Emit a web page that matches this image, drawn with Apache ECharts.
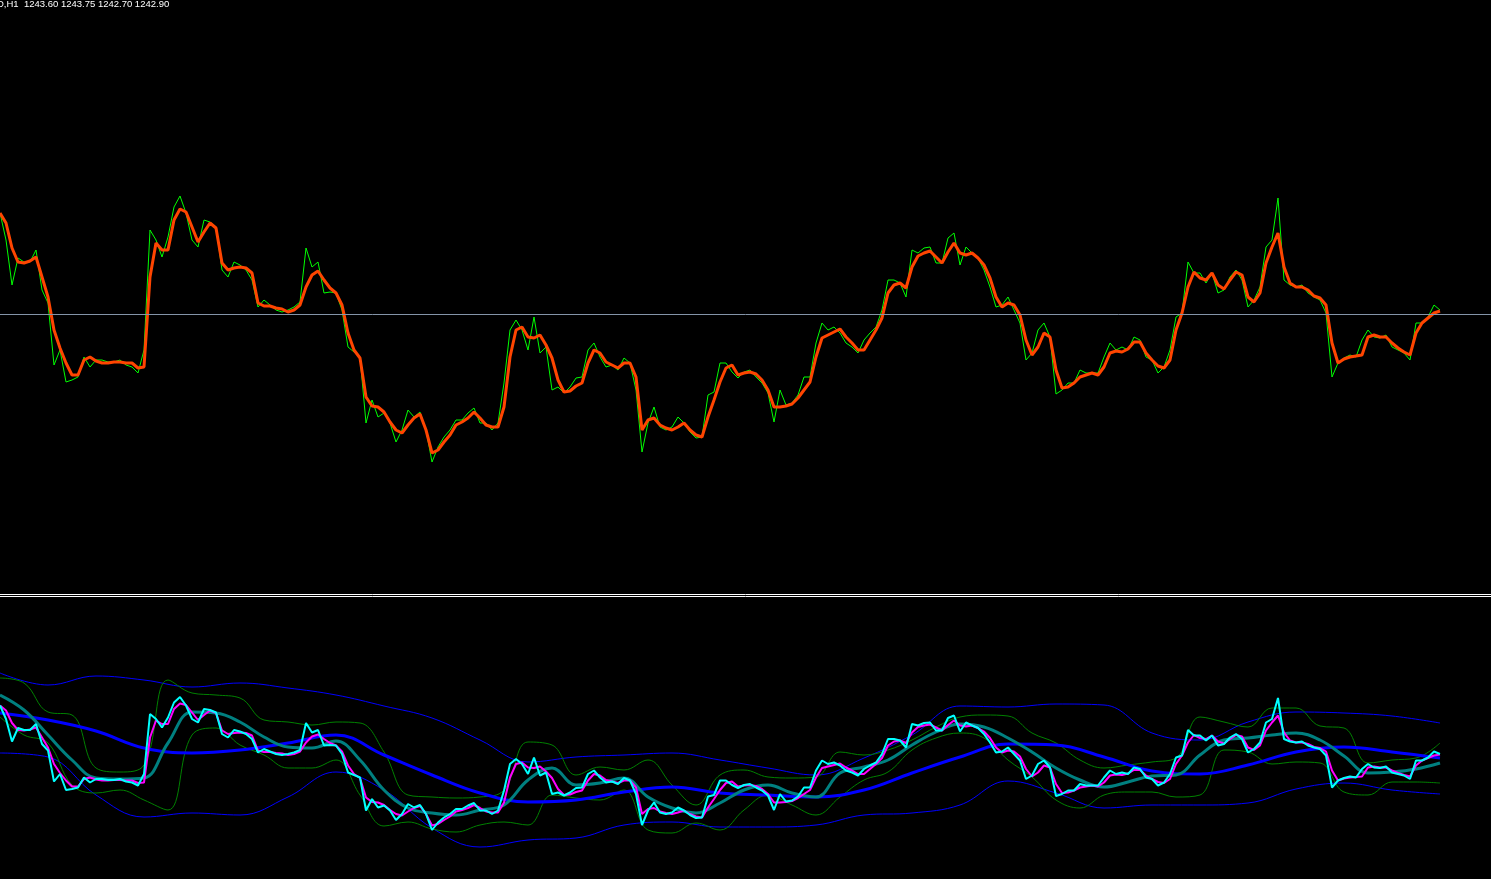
<!DOCTYPE html>
<html><head><meta charset="utf-8">
<script src="https://cdn.jsdelivr.net/npm/echarts@6/dist/echarts.min.js"></script>
<style>html,body{margin:0;padding:0;background:#000;overflow:hidden}#c{width:1491px;height:879px;}</style>
</head><body><div id="c"></div>
<script>
// ---- header text ----
const headerText = 'D,H1  1243.60 1243.75 1242.70 1242.90';
const bidPrice = 1242.9;

// ---- close prices (one sample every 2 bars) ----
const closePrices = [
1253.0,1250.3,1245.8,1248.5,1248.1,1248.1,1249.3,1245.3,1244.0,1237.8,
1239.3,1236.1,1236.3,1236.6,1238.6,1237.6,1238.3,1238.3,1238.1,1238.1,
1238.3,1237.8,1237.6,1237.0,1239.3,1251.3,1250.3,1248.6,1250.6,1253.6,
1254.7,1253.0,1250.3,1249.6,1252.3,1252.1,1251.6,1247.3,1246.6,1248.1,
1247.8,1247.3,1246.3,1243.6,1244.3,1243.8,1243.3,1243.1,1243.3,1243.6,
1244.1,1249.5,1247.6,1248.1,1245.0,1245.1,1245.0,1243.3,1239.6,1239.1,
1238.6,1232.0,1234.3,1232.6,1233.0,1232.0,1230.1,1231.3,1233.3,1232.6,
1233.1,1231.3,1228.1,1229.6,1230.6,1231.3,1232.3,1232.3,1233.0,1233.5,
1232.0,1232.0,1231.3,1232.0,1236.0,1241.3,1242.3,1241.3,1239.3,1242.6,
1239.0,1239.6,1235.3,1235.6,1235.0,1235.6,1236.5,1236.6,1239.3,1240.0,
1238.6,1237.6,1237.8,1237.3,1238.5,1238.0,1235.3,1229.1,1232.0,1233.6,
1231.6,1231.3,1231.6,1232.6,1232.0,1231.1,1230.5,1230.6,1234.8,1235.1,
1238.0,1238.0,1237.1,1236.5,1237.1,1237.3,1236.6,1236.0,1235.0,1232.1,
1235.3,1233.8,1234.0,1234.8,1236.6,1236.6,1240.0,1242.0,1241.3,1241.6,
1241.0,1240.0,1239.6,1239.0,1240.3,1241.0,1241.6,1243.3,1246.3,1246.3,
1246.0,1244.6,1249.3,1249.0,1249.5,1249.6,1248.0,1248.0,1250.5,1251.0,
1247.8,1249.6,1249.0,1248.5,1247.3,1245.6,1243.6,1243.8,1244.6,1243.3,
1242.0,1238.3,1239.0,1241.3,1242.0,1240.6,1234.9,1235.3,1236.0,1236.0,
1237.3,1237.0,1237.0,1237.0,1238.6,1240.0,1239.3,1239.6,1239.3,1240.6,
1240.3,1238.6,1238.3,1237.0,1237.6,1239.3,1242.6,1243.0,1248.1,1247.0,
1247.0,1246.0,1247.0,1245.0,1245.3,1246.6,1247.3,1246.3,1243.6,1244.3,
1245.6,1249.6,1250.3,1254.5,1246.3,1245.8,1245.6,1245.8,1245.0,1244.6,
1244.3,1243.0,1236.6,1238.0,1238.5,1238.8,1238.6,1240.3,1241.3,1240.6,
1240.5,1240.8,1239.6,1239.3,1239.0,1238.3,1242.0,1242.0,1242.6,1243.8,
1243.3
];

// ---- fast moving average (orange / magenta), same sampling ----
const fastMA = [
1253.0,1252.0,1249.5,1248.1,1248.0,1248.2,1248.6,1246.6,1244.6,1241.3,
1239.5,1238.0,1236.8,1236.8,1238.3,1238.6,1238.2,1238.0,1238.0,1238.1,
1238.1,1238.0,1238.0,1237.5,1237.6,1246.6,1250.0,1249.3,1249.3,1252.3,
1253.4,1253.1,1251.6,1250.1,1251.1,1252.0,1251.5,1248.0,1247.3,1247.5,
1247.6,1247.5,1247.0,1244.0,1243.7,1243.7,1243.5,1243.4,1243.1,1243.3,
1243.8,1245.6,1246.8,1247.2,1246.3,1245.5,1245.0,1243.8,1241.0,1239.3,
1238.5,1234.6,1233.7,1233.6,1233.1,1232.1,1231.3,1231.0,1231.8,1232.5,
1232.9,1231.3,1229.0,1229.3,1230.1,1230.8,1231.8,1232.1,1232.5,1233.1,
1232.5,1231.8,1231.6,1231.6,1233.6,1238.6,1241.3,1241.6,1240.6,1240.5,
1240.8,1239.8,1238.5,1236.3,1235.1,1235.2,1235.7,1236.0,1238.0,1239.3,
1239.0,1238.1,1237.8,1237.5,1238.0,1238.0,1236.6,1231.3,1232.3,1232.5,
1231.8,1231.5,1231.3,1231.6,1232.0,1231.3,1230.8,1230.6,1232.6,1234.3,
1236.1,1237.5,1237.8,1236.8,1237.0,1237.1,1236.9,1236.3,1235.3,1233.6,
1233.6,1233.7,1233.9,1234.5,1235.3,1236.1,1238.6,1240.5,1240.8,1241.1,
1241.4,1240.6,1240.0,1239.3,1239.3,1240.3,1241.3,1242.5,1245.0,1245.8,
1246.0,1245.5,1247.6,1248.7,1249.0,1249.2,1248.6,1248.0,1249.1,1250.0,
1249.0,1248.8,1249.0,1248.5,1247.8,1246.5,1244.6,1243.6,1244.0,1243.8,
1242.8,1240.3,1238.8,1239.6,1241.0,1240.6,1237.3,1235.5,1235.6,1236.0,
1236.6,1236.8,1237.0,1236.8,1237.6,1239.0,1239.2,1239.1,1239.4,1240.1,
1240.1,1239.0,1238.3,1237.7,1237.5,1238.3,1241.3,1243.0,1245.6,1247.1,
1246.5,1246.3,1247.0,1245.8,1245.4,1246.3,1247.1,1246.8,1244.6,1244.1,
1245.0,1248.0,1249.6,1251.0,1247.6,1246.0,1245.6,1245.6,1245.3,1244.7,
1244.5,1243.8,1240.0,1238.0,1238.4,1238.6,1238.7,1238.8,1240.6,1240.8,
1240.6,1240.6,1240.0,1239.5,1239.1,1238.8,1241.0,1242.0,1242.5,1243.0,
1243.2
];

// ---- middle MA and its bands (one value every 4 samples) ----
const midMA = [
1255.1,1252.1,1247.1,1242.1,1238.5,1238.3,1238.5,1245.5,1251.7,1251.5,
1249.7,1246.7,1244.7,1244.5,1245.9,1242.1,1236.1,1232.5,1231.5,1231.1,
1232.1,1233.1,1238.1,1240.5,1237.1,1237.5,1238.5,1234.7,1232.5,1231.5,
1233.5,1236.1,1237.1,1235.5,1234.7,1239.5,1240.7,1242.1,1245.1,1247.7,
1249.3,1248.7,1246.5,1243.7,1240.5,1238.1,1236.7,1237.7,1238.9,1239.1,
1243.1,1246.1,1246.5,1247.1,1247.5,1246.1,1242.9,1239.5,1239.7,1240.3,
1241.5
];
const midUpper = [
1258.5,1257.5,1251.7,1251.1,1240.5,1239.7,1241.1,1258.1,1255.5,1255.1,
1254.5,1250.1,1249.7,1249.1,1249.7,1249.5,1243.7,1235.1,1234.7,1234.5,
1234.7,1236.1,1245.7,1245.1,1239.1,1240.7,1240.1,1242.1,1237.1,1233.1,
1239.1,1240.1,1238.7,1238.5,1238.7,1243.7,1243.1,1244.1,1246.1,1248.7,
1250.7,1251.1,1250.9,1247.5,1245.5,1242.1,1240.5,1241.1,1241.7,1242.5,
1250.7,1249.7,1248.7,1252.5,1252.5,1248.9,1248.5,1241.5,1242.1,1242.5,
1245.5
];
const midLower = [
1250.7,1247.1,1245.5,1237.1,1235.5,1236.1,1234.1,1232.1,1247.1,1248.5,
1245.1,1243.1,1240.5,1240.5,1242.1,1235.1,1228.9,1229.7,1228.3,1227.7,
1229.1,1229.7,1229.1,1235.1,1234.5,1234.1,1236.1,1228.1,1227.5,1229.5,
1228.1,1232.1,1235.1,1233.1,1231.1,1234.7,1238.1,1239.7,1244.1,1246.5,
1247.5,1246.5,1242.1,1238.7,1234.1,1232.5,1235.1,1235.7,1235.7,1234.7,
1235.1,1244.1,1243.7,1241.3,1241.7,1241.5,1235.7,1235.1,1237.7,1237.7,
1237.5
];

// ---- slow MA and its bands (one value every 8 samples) ----
const slowMA = [
1251.5,1250.1,1247.9,1244.5,1243.5,1244.1,1245.5,1247.1,1243.1,1239.1,
1235.5,1233.7,1234.1,1235.7,1236.7,1235.5,1235.1,1234.7,1236.1,1239.5,
1242.7,1245.3,1245.1,1242.7,1239.9,1239.3,1241.1,1243.7,1244.7,1243.7,
1242.5
];
const slowUpper = [
1259.5,1257.1,1258.9,1258.1,1256.7,1257.5,1256.5,1255.1,1252.9,1250.5,
1246.1,1241.7,1242.7,1243.1,1243.5,1242.1,1240.5,1239.1,1242.5,1247.1,
1252.9,1252.7,1253.3,1253.1,1247.5,1246.1,1249.7,1251.7,1251.5,1250.9,
1249.5
];
const slowLower = [
1243.5,1242.7,1235.1,1230.7,1231.5,1231.1,1234.7,1239.7,1236.1,1228.5,
1224.7,1226.1,1226.5,1229.1,1229.7,1228.7,1228.7,1229.1,1231.1,1231.5,
1233.1,1237.9,1235.5,1232.5,1233.1,1233.1,1233.5,1236.3,1237.5,1236.1,
1235.3
];

// ---- build series data (index -> value) ----
const toXY = (arr, step) => arr.map((v, i) => [i * step, v]);

const chart = echarts.init(document.getElementById('c'), null, {renderer: 'canvas'});
const X_MAX = 248.5;

const thin = (name, arr, step, color, width, idx, z, smooth) => ({
  name, type: 'line', data: toXY(arr, step), xAxisIndex: idx, yAxisIndex: idx,
  showSymbol: false, symbol: 'none', smooth: smooth || false, z: z,
  lineStyle: {color, width}, silent: true, animation: false
});

chart.setOption({
  backgroundColor: '#000000',
  animation: false,
  grid: [
    {left: 0, right: 0, top: 0, height: 594},
    {left: 0, right: 0, top: 597, height: 282}
  ],
  xAxis: [
    {type: 'value', gridIndex: 0, min: 0, max: X_MAX, show: false},
    {type: 'value', gridIndex: 1, min: 0, max: X_MAX, show: false}
  ],
  yAxis: [
    {type: 'value', gridIndex: 0, min: 1214.9, max: 1274.3, show: false},
    {type: 'value', gridIndex: 1, min: 1218.3, max: 1274.7, show: false}
  ],
  series: [
    Object.assign(thin('Close', closePrices, 1, '#00ff00', 1, 0, 2), {
      markLine: {
        silent: true, symbol: 'none', label: {show: false},
        lineStyle: {color: '#8494a8', width: 1, type: 'solid'},
        data: [{yAxis: bidPrice}]
      }
    }),
    thin('Fast MA', fastMA, 1, '#ff4500', 3, 0, 3),
    thin('Slow upper', slowUpper, 8, '#0000ff', 1, 1, 2, 0.4),
    thin('Slow lower', slowLower, 8, '#0000ff', 1, 1, 2, 0.4),
    thin('Mid upper', midUpper, 4, '#008000', 1, 1, 2, 0.4),
    thin('Mid lower', midLower, 4, '#008000', 1, 1, 2, 0.4),
    thin('Slow MA', slowMA, 8, '#0000ff', 3, 1, 3, 0.4),
    thin('Mid MA', midMA, 4, '#008080', 3, 1, 4, 0.4),
    thin('Fast MA 2', fastMA, 1, '#ff00ff', 2, 1, 5),
    thin('Close 2', closePrices, 1, '#00ffff', 2, 1, 6)
  ],
  graphic: [
    {type: 'line', shape: {x1: 0, y1: 594.5, x2: 1491, y2: 594.5}, style: {stroke: '#ffffff', lineWidth: 1}, z: 10},
    {type: 'line', shape: {x1: 0, y1: 596.5, x2: 1491, y2: 596.5}, style: {stroke: '#ffffff', lineWidth: 1}, z: 10},
    {type: 'text', left: -3, top: -1, z: 10,
     style: {text: headerText, fill: '#ffffff', font: '9.5px "Liberation Sans", Arial, sans-serif'}}
  ]
});
</script>
</body></html>
